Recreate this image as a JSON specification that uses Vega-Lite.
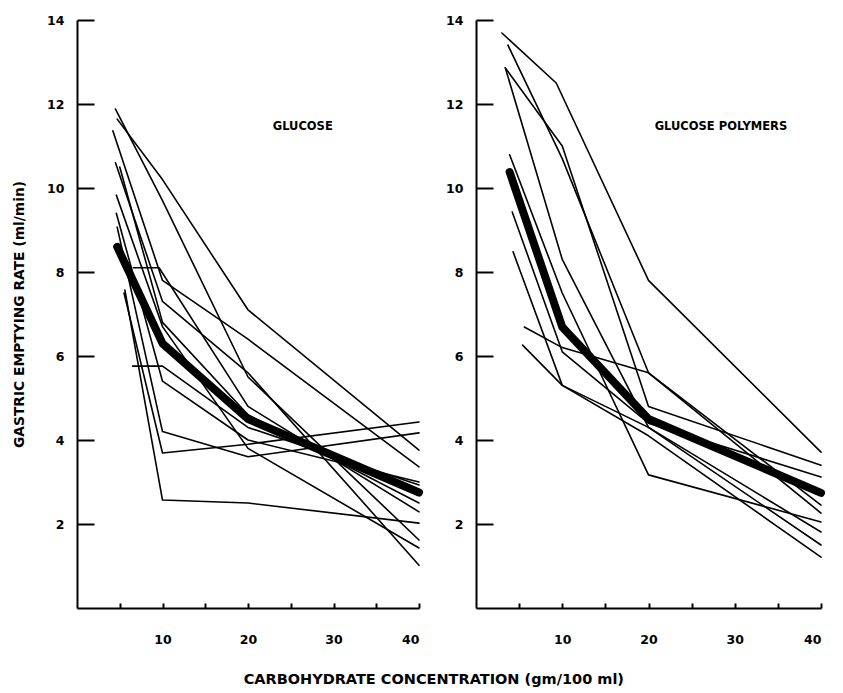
{
  "$schema": "https://vega.github.io/schema/vega-lite/v6.json",
  "background": "white",
  "padding": {"left": 12, "top": 14, "right": 10, "bottom": 5},
  "title": {"text": "CARBOHYDRATE CONCENTRATION (gm/100 ml)", "orient": "bottom", "anchor": "middle", "dx": 15, "font": "DejaVu Sans", "fontSize": 14.5, "fontWeight": "bold", "color": "black", "offset": 27},
  "config": {
    "view": {"stroke": null},
    "axis": {"domainColor": "black", "domainWidth": 2, "tickColor": "black", "tickWidth": 2, "grid": false, "labelFont": "DejaVu Sans", "labelFontSize": 12.5, "labelFontWeight": "bold", "labelColor": "black", "titleFont": "DejaVu Sans", "titleFontSize": 13.8, "titleFontWeight": "bold", "titleColor": "black"}
  },
  "datasets": {
    "curves": [
      {"panel": "G", "subject": "M", "kind": "mean", "conc": 4.7, "rate": 8.6},
      {"panel": "G", "subject": "M", "kind": "mean", "conc": 10, "rate": 6.3},
      {"panel": "G", "subject": "M", "kind": "mean", "conc": 20, "rate": 4.5},
      {"panel": "G", "subject": "M", "kind": "mean", "conc": 40, "rate": 2.75},
      {"panel": "G", "subject": "1", "kind": "subject", "conc": 4.5, "rate": 11.88},
      {"panel": "G", "subject": "1", "kind": "subject", "conc": 10, "rate": 9.7},
      {"panel": "G", "subject": "1", "kind": "subject", "conc": 20, "rate": 5.5},
      {"panel": "G", "subject": "1", "kind": "subject", "conc": 40, "rate": 1.62},
      {"panel": "G", "subject": "2", "kind": "subject", "conc": 4.7, "rate": 11.64},
      {"panel": "G", "subject": "2", "kind": "subject", "conc": 10, "rate": 10.2},
      {"panel": "G", "subject": "2", "kind": "subject", "conc": 20, "rate": 7.1},
      {"panel": "G", "subject": "2", "kind": "subject", "conc": 40, "rate": 3.76},
      {"panel": "G", "subject": "3", "kind": "subject", "conc": 4.2, "rate": 11.36},
      {"panel": "G", "subject": "3", "kind": "subject", "conc": 10, "rate": 7.8},
      {"panel": "G", "subject": "3", "kind": "subject", "conc": 20, "rate": 6.4},
      {"panel": "G", "subject": "3", "kind": "subject", "conc": 40, "rate": 3.36},
      {"panel": "G", "subject": "4", "kind": "subject", "conc": 4.5, "rate": 10.6},
      {"panel": "G", "subject": "4", "kind": "subject", "conc": 10, "rate": 7.3},
      {"panel": "G", "subject": "4", "kind": "subject", "conc": 20, "rate": 5.6},
      {"panel": "G", "subject": "4", "kind": "subject", "conc": 40, "rate": 1.02},
      {"panel": "G", "subject": "5", "kind": "subject", "conc": 5, "rate": 10.5},
      {"panel": "G", "subject": "5", "kind": "subject", "conc": 10, "rate": 6.8},
      {"panel": "G", "subject": "5", "kind": "subject", "conc": 20, "rate": 4.6},
      {"panel": "G", "subject": "5", "kind": "subject", "conc": 40, "rate": 2.5},
      {"panel": "G", "subject": "6", "kind": "subject", "conc": 4.6, "rate": 9.83},
      {"panel": "G", "subject": "6", "kind": "subject", "conc": 10, "rate": 6.7},
      {"panel": "G", "subject": "6", "kind": "subject", "conc": 20, "rate": 3.8},
      {"panel": "G", "subject": "6", "kind": "subject", "conc": 40, "rate": 1.43},
      {"panel": "G", "subject": "7", "kind": "subject", "conc": 4.6, "rate": 9.4},
      {"panel": "G", "subject": "7", "kind": "subject", "conc": 10, "rate": 5.4},
      {"panel": "G", "subject": "7", "kind": "subject", "conc": 20, "rate": 4.0},
      {"panel": "G", "subject": "7", "kind": "subject", "conc": 40, "rate": 3.0},
      {"panel": "G", "subject": "8", "kind": "subject", "conc": 4.7, "rate": 9.07},
      {"panel": "G", "subject": "8", "kind": "subject", "conc": 10, "rate": 4.2},
      {"panel": "G", "subject": "8", "kind": "subject", "conc": 20, "rate": 3.6},
      {"panel": "G", "subject": "8", "kind": "subject", "conc": 40, "rate": 4.17},
      {"panel": "G", "subject": "9", "kind": "subject", "conc": 5.6, "rate": 7.57},
      {"panel": "G", "subject": "9", "kind": "subject", "conc": 10, "rate": 2.57},
      {"panel": "G", "subject": "9", "kind": "subject", "conc": 20, "rate": 2.5},
      {"panel": "G", "subject": "9", "kind": "subject", "conc": 40, "rate": 2.02},
      {"panel": "G", "subject": "10", "kind": "subject", "conc": 5.5, "rate": 7.5},
      {"panel": "G", "subject": "10", "kind": "subject", "conc": 10, "rate": 3.69},
      {"panel": "G", "subject": "10", "kind": "subject", "conc": 20, "rate": 3.9},
      {"panel": "G", "subject": "10", "kind": "subject", "conc": 40, "rate": 4.43},
      {"panel": "G", "subject": "11", "kind": "subject", "conc": 6.5, "rate": 5.76},
      {"panel": "G", "subject": "11", "kind": "subject", "conc": 10, "rate": 5.76},
      {"panel": "G", "subject": "11", "kind": "subject", "conc": 20, "rate": 4.3},
      {"panel": "G", "subject": "11", "kind": "subject", "conc": 40, "rate": 2.93},
      {"panel": "G", "subject": "12", "kind": "subject", "conc": 6.6, "rate": 8.1},
      {"panel": "G", "subject": "12", "kind": "subject", "conc": 9.6, "rate": 8.1},
      {"panel": "G", "subject": "12", "kind": "subject", "conc": 20, "rate": 4.8},
      {"panel": "G", "subject": "12", "kind": "subject", "conc": 40, "rate": 2.29},
      {"panel": "P", "subject": "M", "kind": "mean", "conc": 3.9, "rate": 10.38},
      {"panel": "P", "subject": "M", "kind": "mean", "conc": 10, "rate": 6.69},
      {"panel": "P", "subject": "M", "kind": "mean", "conc": 20, "rate": 4.5},
      {"panel": "P", "subject": "M", "kind": "mean", "conc": 40, "rate": 2.74},
      {"panel": "P", "subject": "1", "kind": "subject", "conc": 3.0, "rate": 13.69},
      {"panel": "P", "subject": "1", "kind": "subject", "conc": 9.3, "rate": 12.5},
      {"panel": "P", "subject": "1", "kind": "subject", "conc": 20, "rate": 7.8},
      {"panel": "P", "subject": "1", "kind": "subject", "conc": 40, "rate": 3.71},
      {"panel": "P", "subject": "2", "kind": "subject", "conc": 3.7, "rate": 13.4},
      {"panel": "P", "subject": "2", "kind": "subject", "conc": 10, "rate": 10.7},
      {"panel": "P", "subject": "2", "kind": "subject", "conc": 20, "rate": 5.6},
      {"panel": "P", "subject": "2", "kind": "subject", "conc": 40, "rate": 2.26},
      {"panel": "P", "subject": "3", "kind": "subject", "conc": 3.4, "rate": 12.86},
      {"panel": "P", "subject": "3", "kind": "subject", "conc": 10, "rate": 11.0},
      {"panel": "P", "subject": "3", "kind": "subject", "conc": 20, "rate": 4.8},
      {"panel": "P", "subject": "3", "kind": "subject", "conc": 40, "rate": 3.4},
      {"panel": "P", "subject": "4", "kind": "subject", "conc": 3.4, "rate": 12.86},
      {"panel": "P", "subject": "4", "kind": "subject", "conc": 10, "rate": 8.3},
      {"panel": "P", "subject": "4", "kind": "subject", "conc": 20, "rate": 4.3},
      {"panel": "P", "subject": "4", "kind": "subject", "conc": 40, "rate": 1.81},
      {"panel": "P", "subject": "5", "kind": "subject", "conc": 3.9, "rate": 10.79},
      {"panel": "P", "subject": "5", "kind": "subject", "conc": 10, "rate": 7.5},
      {"panel": "P", "subject": "5", "kind": "subject", "conc": 20, "rate": 3.17},
      {"panel": "P", "subject": "5", "kind": "subject", "conc": 40, "rate": 2.05},
      {"panel": "P", "subject": "6", "kind": "subject", "conc": 4.2, "rate": 9.43},
      {"panel": "P", "subject": "6", "kind": "subject", "conc": 10, "rate": 6.1},
      {"panel": "P", "subject": "6", "kind": "subject", "conc": 20, "rate": 4.4},
      {"panel": "P", "subject": "6", "kind": "subject", "conc": 40, "rate": 3.12},
      {"panel": "P", "subject": "7", "kind": "subject", "conc": 4.3, "rate": 8.48},
      {"panel": "P", "subject": "7", "kind": "subject", "conc": 10, "rate": 5.3},
      {"panel": "P", "subject": "7", "kind": "subject", "conc": 20, "rate": 4.3},
      {"panel": "P", "subject": "7", "kind": "subject", "conc": 40, "rate": 1.5},
      {"panel": "P", "subject": "8", "kind": "subject", "conc": 5.6, "rate": 6.69},
      {"panel": "P", "subject": "8", "kind": "subject", "conc": 10, "rate": 6.2},
      {"panel": "P", "subject": "8", "kind": "subject", "conc": 20, "rate": 5.6},
      {"panel": "P", "subject": "8", "kind": "subject", "conc": 40, "rate": 2.45},
      {"panel": "P", "subject": "9", "kind": "subject", "conc": 5.4, "rate": 6.26},
      {"panel": "P", "subject": "9", "kind": "subject", "conc": 10, "rate": 5.3},
      {"panel": "P", "subject": "9", "kind": "subject", "conc": 20, "rate": 4.1},
      {"panel": "P", "subject": "9", "kind": "subject", "conc": 40, "rate": 1.21}
    ],
    "labels": [
      {"panel": "G", "text": "GLUCOSE", "conc": 26.4, "rate": 11.45},
      {"panel": "P", "text": "GLUCOSE POLYMERS", "conc": 28.4, "rate": 11.45}
    ]
  },
  "spacing": 57,
  "bounds": "flush",
  "hconcat": [
    {
      "width": 342,
      "height": 588,
      "layer": [
        {
          "data": {"name": "curves"},
          "transform": [{"filter": "datum.panel === 'G'"}],
          "mark": {"type": "line", "color": "black", "strokeJoin": "round", "strokeCap": "round"},
          "encoding": {
            "x": {"field": "conc", "type": "quantitative", "scale": {"domain": [0, 40], "nice": false, "zero": false}, "axis": {"title": null, "values": [5, 10, 15, 20, 25, 30, 35, 40], "labelExpr": "datum.value % 10 === 0 ? datum.label : ''", "tickSize": -5, "labelPadding": 30}},
            "y": {"field": "rate", "type": "quantitative", "scale": {"domain": [0, 14], "nice": false}, "axis": {"title": "GASTRIC EMPTYING RATE (ml/min)", "values": [2, 4, 6, 8, 10, 12, 14], "tickSize": -17, "labelPadding": 30, "titlePadding": 20}},
            "detail": {"field": "subject"},
            "strokeWidth": {"field": "kind", "type": "nominal", "scale": {"domain": ["subject", "mean"], "range": [1.6, 8]}, "legend": null},
            "order": {"field": "conc", "type": "quantitative"}
          }
        },
        {
          "data": {"name": "labels"},
          "transform": [{"filter": "datum.panel === 'G'"}],
          "mark": {"type": "text", "font": "DejaVu Sans", "fontSize": 11.5, "fontWeight": "bold", "color": "black"},
          "encoding": {
            "x": {"field": "conc", "type": "quantitative"},
            "y": {"field": "rate", "type": "quantitative"},
            "text": {"field": "text"}
          }
        }
      ]
    },
    {
      "width": 345,
      "height": 588,
      "layer": [
        {
          "data": {"name": "curves"},
          "transform": [{"filter": "datum.panel === 'P'"}],
          "mark": {"type": "line", "color": "black", "strokeJoin": "round", "strokeCap": "round"},
          "encoding": {
            "x": {"field": "conc", "type": "quantitative", "scale": {"domain": [0, 40], "nice": false, "zero": false}, "axis": {"title": null, "values": [5, 10, 15, 20, 25, 30, 35, 40], "labelExpr": "datum.value % 10 === 0 ? datum.label : ''", "tickSize": -5, "labelPadding": 30}},
            "y": {"field": "rate", "type": "quantitative", "scale": {"domain": [0, 14], "nice": false}, "axis": {"title": null, "values": [2, 4, 6, 8, 10, 12, 14], "tickSize": -17, "labelPadding": 30}},
            "detail": {"field": "subject"},
            "strokeWidth": {"field": "kind", "type": "nominal", "scale": {"domain": ["subject", "mean"], "range": [1.6, 8]}, "legend": null},
            "order": {"field": "conc", "type": "quantitative"}
          }
        },
        {
          "data": {"name": "labels"},
          "transform": [{"filter": "datum.panel === 'P'"}],
          "mark": {"type": "text", "font": "DejaVu Sans", "fontSize": 11.5, "fontWeight": "bold", "color": "black"},
          "encoding": {
            "x": {"field": "conc", "type": "quantitative"},
            "y": {"field": "rate", "type": "quantitative"},
            "text": {"field": "text"}
          }
        }
      ]
    }
  ]
}
